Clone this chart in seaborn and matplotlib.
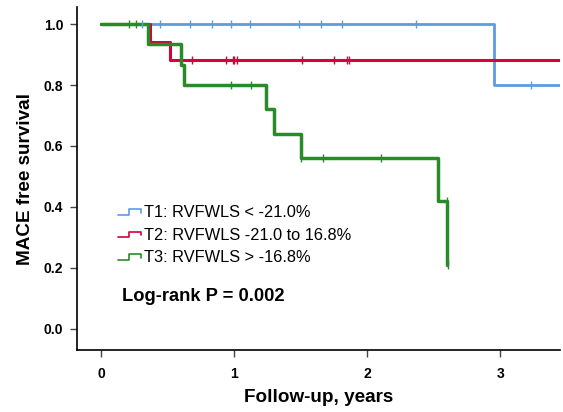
import numpy as np
import pandas as pd
import matplotlib
matplotlib.use("Agg")
import matplotlib.pyplot as plt
import seaborn as sns
from matplotlib.legend_handler import HandlerBase
from matplotlib.lines import Line2D

# ---- data ----
groups = ["T1: RVFWLS < -21.0%", "T2: RVFWLS -21.0 to 16.8%", "T3: RVFWLS > -16.8%"]
colors = ["#5E9BE3", "#D8003B", "#2A8A2A"]

t1_time = [0.0, 2.95, 3.50]
t1_surv = [1.0, 0.80, 0.80]
t1_cens_t = [0.31, 0.44, 0.67, 0.83, 0.98, 1.12, 1.49, 1.65, 1.81, 2.37, 3.23]
t1_cens_s = [1.0, 1.0, 1.0, 1.0, 1.0, 1.0, 1.0, 1.0, 1.0, 1.0, 0.80]

t2_time = [0.0, 0.37, 0.52, 3.50]
t2_surv = [1.0, 0.941, 0.882, 0.882]
t2_cens_t = [0.68, 0.94, 0.99, 1.00, 1.02, 1.51, 1.75, 1.85, 1.86]
t2_cens_s = [0.882] * 9

t3_time = [0.0, 0.35, 0.60, 0.62, 1.24, 1.30, 1.50, 2.53, 2.60]
t3_surv = [1.0, 0.933, 0.867, 0.80, 0.72, 0.64, 0.56, 0.42, 0.21]
t3_cens_t = [0.21, 0.26, 0.98, 1.13, 1.50, 1.67, 2.10, 2.60, 2.61]
t3_cens_s = [1.0, 1.0, 0.80, 0.80, 0.56, 0.56, 0.56, 0.42, 0.21]

x_ticks = [0, 1, 2, 3]
y_ticks = [0.0, 0.2, 0.4, 0.6, 0.8, 1.0]
stat_text = "Log-rank P = 0.002"

curves = pd.concat([
    pd.DataFrame({"time": t, "surv": s, "group": g})
    for t, s, g in zip([t1_time, t2_time, t3_time], [t1_surv, t2_surv, t3_surv], groups)
])
cens = pd.concat([
    pd.DataFrame({"time": t, "surv": s, "group": g})
    for t, s, g in zip([t1_cens_t, t2_cens_t, t3_cens_t], [t1_cens_s, t2_cens_s, t3_cens_s], groups)
])

sns.set_theme(style="ticks")
plt.rcParams["font.family"] = ["Liberation Sans", "DejaVu Sans"]
plt.rcParams["text.color"] = "black"
plt.rcParams["axes.labelcolor"] = "black"
plt.rcParams["xtick.labelcolor"] = "black"
plt.rcParams["ytick.labelcolor"] = "black"

fig = plt.figure(figsize=(5.63, 4.12), dpi=100)
ax = fig.add_axes([0.137, 0.150, 0.858, 0.833])

lws = [2.0, 2.2, 2.5]
for g, c, lw in zip(groups, colors, lws):
    sub = curves[curves.group == g]
    sns.lineplot(data=sub, x="time", y="surv", ax=ax, color=c, lw=lw,
                 drawstyle="steps-post", estimator=None, sort=False, legend=False)
    cs = cens[cens.group == g]
    sns.scatterplot(data=cs, x="time", y="surv", ax=ax, color=c, marker="|",
                    s=40, linewidth=1.0, legend=False, zorder=3)

ax.set_xlim(-0.18, 3.45)
ax.set_ylim(-0.07, 1.056)
ax.set_xticks(x_ticks)
ax.set_yticks(y_ticks)
ax.set_xticklabels([str(v) for v in x_ticks], fontweight="bold", fontsize=10, color="black")
ax.set_yticklabels([f"{v:.1f}" for v in y_ticks], fontweight="bold", fontsize=10, color="black")
ax.tick_params(axis="both", direction="out", length=5, width=1, color="#444444", pad=5)
ax.tick_params(axis="x", pad=7)
for side in ["top", "right"]:
    ax.spines[side].set_visible(False)
for side in ["left", "bottom"]:
    ax.spines[side].set_linewidth(1.2)
    ax.spines[side].set_color("black")

ax.set_xlabel("Follow-up, years", fontweight="bold", fontsize=13.6, labelpad=6, color="black")
ax.set_ylabel("MACE free survival", fontweight="bold", fontsize=13.6, labelpad=7, color="black")


class StepHandler(HandlerBase):
    def create_artists(self, legend, orig_handle, xdescent, ydescent, width, height, fontsize, trans):
        x0 = -xdescent
        y0 = -ydescent
        xs = [x0, x0 + 0.45 * width, x0 + 0.45 * width, x0 + width, x0 + width]
        ys = [y0 + 0.2 * height, y0 + 0.2 * height, y0 + 0.7 * height, y0 + 0.7 * height, y0 + 0.4 * height]
        ln = Line2D(xs, ys, color=orig_handle.get_color(), lw=1.2, transform=trans)
        return [ln]


handles = [Line2D([], [], color=c) for c in colors]
leg = ax.legend(handles, groups, handler_map={Line2D: StepHandler()},
                loc="center left", bbox_to_anchor=(0.072, 0.335), frameon=False,
                fontsize=11.8, handlelength=1.4, handletextpad=0.15, labelspacing=0.46,
                borderaxespad=0)
for t in leg.get_texts():
    t.set_color("black")

ax.text(0.093, 0.157, stat_text, transform=ax.transAxes, fontweight="bold",
        fontsize=13.2, va="center", ha="left", color="black")

fig.savefig("out.png", dpi=100)
